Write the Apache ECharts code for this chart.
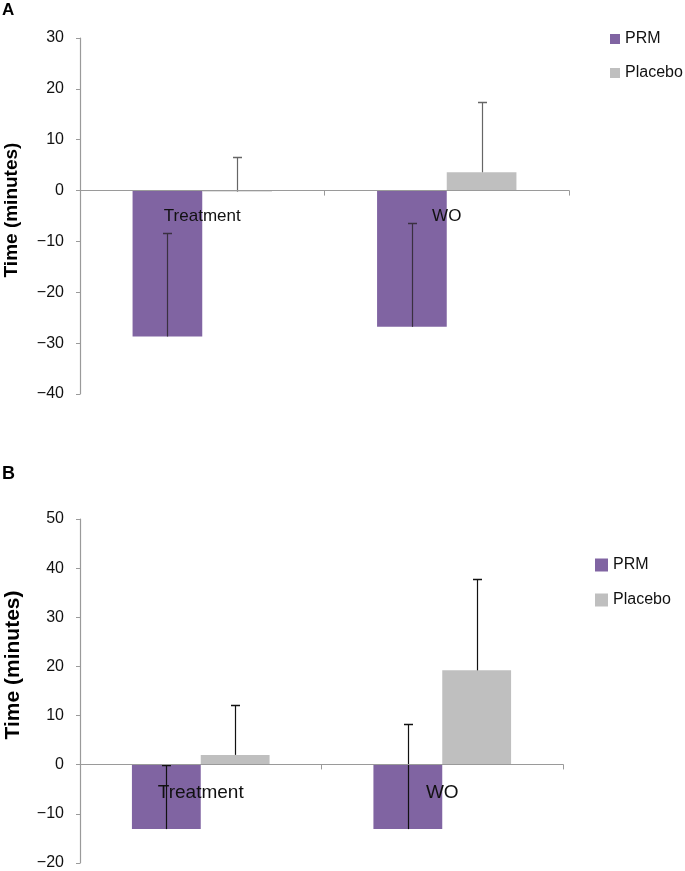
<!DOCTYPE html>
<html>
<head>
<meta charset="utf-8">
<script src="https://cdn.jsdelivr.net/npm/echarts@6/dist/echarts.min.js"></script>
<style>html,body{margin:0;padding:0;background:#fff;}#c{width:685px;height:871px;}</style>
</head>
<body>
<div id="c"></div>
<script>
// ---- data ----
const categories = ['Treatment', 'WO'];
const seriesNames = ['PRM', 'Placebo'];
// Panel A
const prmA = [-28.7, -26.8];
const placeboA = [-0.2, 3.6];
const prmErrA = [20.4, 20.5];
const placeboErrA = [6.8, 13.8];
const yTicksA = {min: -40, max: 30, interval: 10};
// Panel B
const prmB = [-13.1, -13.1];
const placeboB = [2.0, 19.2];
const prmErrB = [13.1, 21.4];
const placeboErrB = [10.1, 18.5];
const yTicksB = {min: -20, max: 50, interval: 10};
const yTitle = 'Time (minutes)';

const FONT = '"Liberation Sans", Arial, sans-serif';
const PURPLE = '#8064A2';
const GREY = '#BFBFBF';
const AXIS = '#9a9a9a';
const GAP = 0.43;
const gridA = {left: 80, right: 116, top: 38, height: 356};
const gridB = {left: 80, right: 122, top: 519, height: 345};

function errData(vals, errs) { return vals.map((v, i) => [i, v, errs[i]]); }

function errRender(side, color, capW) {
  return function (params, api) {
    const v = api.value(1), e = api.value(2), i = api.value(0);
    const base = api.coord([i, v]);
    const top = api.coord([i, v + e]);
    const band = api.size([1, 0])[0];
    const bw = band * (1 - GAP) / 2;
    const x = Math.round(base[0] + side * bw / 2) + 0.5;
    const y2 = Math.round(top[1]) + 0.5;
    return {
      type: 'group',
      children: [
        {type: 'line', shape: {x1: x, y1: base[1], x2: x, y2: y2}, style: {stroke: color, lineWidth: 1.2}},
        {type: 'line', shape: {x1: x - capW / 2, y1: y2, x2: x + capW / 2, y2: y2}, style: {stroke: color, lineWidth: 1.5}}
      ]
    };
  };
}

// x axis placed at the zero line of its value axis
function xAxisCfg(gridIndex, grid, t, fontSize, margin) {
  const zeroOffset = -grid.height * (0 - t.min) / (t.max - t.min);
  return {
    type: 'category', gridIndex: gridIndex, data: categories, z: 10,
    position: 'bottom', offset: zeroOffset,
    axisLine: {onZero: false, lineStyle: {color: AXIS, width: 1.2}},
    axisTick: {show: true, length: 5, lineStyle: {color: AXIS}},
    axisLabel: {fontFamily: FONT, fontSize: fontSize, color: '#111', margin: margin},
    splitLine: {show: false}
  };
}
function yAxisCfg(gridIndex, t) {
  return {
    type: 'value', gridIndex: gridIndex, min: t.min, max: t.max, interval: t.interval,
    axisLine: {show: true, lineStyle: {color: AXIS, width: 1.2}},
    axisTick: {show: true, length: 4, lineStyle: {color: AXIS}},
    axisLabel: {fontFamily: FONT, fontSize: 16, color: '#111', margin: 16,
      formatter: v => (v < 0 ? '\u2212' + Math.abs(v) : String(v))},
    splitLine: {show: false}
  };
}
function barSeries(name, data, color, xi, yi) {
  return {name: name, type: 'bar', data: data, xAxisIndex: xi, yAxisIndex: yi,
    barGap: '0%', barCategoryGap: (GAP * 100) + '%', itemStyle: {color: color}, z: 2};
}
function errSeries(id, vals, errs, side, color, capW, xi, yi) {
  return {name: id, type: 'custom', xAxisIndex: xi, yAxisIndex: yi, data: errData(vals, errs),
    encode: {x: 0, y: 1}, renderItem: errRender(side, color, capW), z: 5};
}

const chart = echarts.init(document.getElementById('c'), null, {renderer: 'canvas'});
chart.setOption({
  backgroundColor: '#fff',
  animation: false,
  grid: [gridA, gridB],
  xAxis: [xAxisCfg(0, gridA, yTicksA, 17, 17), xAxisCfg(1, gridB, yTicksB, 19, 19)],
  yAxis: [yAxisCfg(0, yTicksA), yAxisCfg(1, yTicksB)],
  legend: [
    {data: seriesNames, orient: 'vertical', left: 610, top: 31, padding: 0, itemWidth: 10, itemHeight: 10, itemGap: 18,
      icon: 'rect', textStyle: {fontFamily: FONT, fontSize: 16, color: '#111'}},
    {data: seriesNames, orient: 'vertical', left: 595, top: 557, padding: 0, itemWidth: 13, itemHeight: 13, itemGap: 19,
      icon: 'rect', textStyle: {fontFamily: FONT, fontSize: 16, color: '#111'}}
  ],
  graphic: [
    {type: 'text', left: 2, top: 2, style: {text: 'A', font: 'bold 17px ' + FONT, fill: '#000'}},
    {type: 'text', left: 2, top: 465, style: {text: 'B', font: 'bold 18px ' + FONT, fill: '#000'}},
    {type: 'text', x: 12, y: 210, rotation: Math.PI / 2,
      style: {text: yTitle, font: 'bold 19px ' + FONT, fill: '#000', align: 'center', verticalAlign: 'middle'}},
    {type: 'text', x: 13, y: 665, rotation: Math.PI / 2,
      style: {text: yTitle, font: 'bold 21px ' + FONT, fill: '#000', align: 'center', verticalAlign: 'middle'}}
  ],
  series: [
    barSeries('PRM', prmA, PURPLE, 0, 0),
    barSeries('Placebo', placeboA, GREY, 0, 0),
    barSeries('PRM', prmB, PURPLE, 1, 1),
    barSeries('Placebo', placeboB, GREY, 1, 1),
    errSeries('errPrmA', prmA, prmErrA, -1, '#3a3040', 9, 0, 0),
    errSeries('errPlaA', placeboA, placeboErrA, 1, '#666666', 9, 0, 0),
    errSeries('errPrmB', prmB, prmErrB, -1, '#111111', 9, 1, 1),
    errSeries('errPlaB', placeboB, placeboErrB, 1, '#111111', 9, 1, 1)
  ]
});
</script>
</body>
</html>
